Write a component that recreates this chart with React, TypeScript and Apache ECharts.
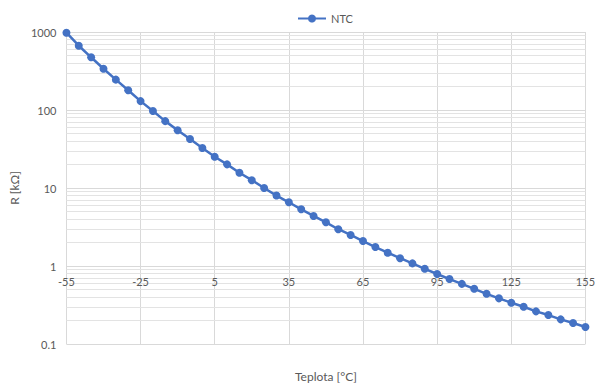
import React, { useEffect, useRef } from "react";
import * as echarts from "echarts";

const temperatures: string[] = [
  "-55", "-50", "-45", "-40", "-35", "-30", "-25", "-20", "-15", "-10",
  "-5", "0", "5", "10", "15", "20", "25", "30", "35", "40",
  "45", "50", "55", "60", "65", "70", "75", "80", "85", "90",
  "95", "100", "105", "110", "115", "120", "125", "130", "135", "140",
  "145", "150", "155",
];

const resistanceKOhm: number[] = [
  980, 667, 474, 338, 245, 179, 130, 97, 72, 55,
  42.5, 32.6, 25.2, 20.1, 15.7, 12.6, 10, 8.0, 6.56, 5.33,
  4.38, 3.63, 2.96, 2.5, 2.09, 1.75, 1.48, 1.26, 1.08, 0.92,
  0.79, 0.68, 0.59, 0.51, 0.44, 0.385, 0.338, 0.30, 0.262, 0.235,
  0.207, 0.186, 0.165,
];

const minorGridValues: number[] = [
  0.2, 0.3, 0.4, 0.5, 0.6, 0.7, 0.8, 0.9,
  2, 3, 4, 5, 6, 7, 8, 9,
  20, 30, 40, 50, 60, 70, 80, 90,
  200, 300, 400, 500, 600, 700, 800, 900,
];

const seriesName = "NTC";
const xTitle = "Teplota [°C]";
const yTitle = "R [kΩ]";

export default function App() {
  const ref = useRef<HTMLDivElement>(null);
  useEffect(() => {
    if (!ref.current) return;
    const chart = echarts.init(ref.current, undefined, { renderer: "svg" });
    const font = "Lato, 'Open Sans', sans-serif";
    chart.setOption({
      animation: false,
      backgroundColor: "#ffffff",
      textStyle: { fontFamily: font },
      grid: { left: 63, right: 11, top: 32, bottom: 44, containLabel: false },
      legend: {
        data: [seriesName],
        left: 292,
        top: 8,
        itemWidth: 28,
        itemHeight: 10,
        itemGap: 4,
        textStyle: { color: "#595959", fontSize: 11, fontFamily: font },
      },
      xAxis: {
        type: "category",
        data: temperatures,
        boundaryGap: false,
        offset: -78,
        axisLine: { show: false },
        axisTick: { show: false },
        axisLabel: {
          interval: 5,
          color: "#595959",
          fontSize: 11,
          margin: 10,
          fontFamily: font,
        },
        splitLine: {
          show: true,
          interval: 5,
          lineStyle: { color: "#d9d9d9", width: 1 },
        },
        name: xTitle,
        nameLocation: "middle",
        nameGap: 104,
        nameTextStyle: { color: "#595959", fontSize: 12, fontFamily: font },
      },
      yAxis: {
        type: "log",
        logBase: 10,
        min: 0.1,
        max: 1000,
        interval: 1,
        axisLine: { show: false },
        axisTick: { show: false },
        axisLabel: {
          color: "#595959",
          fontSize: 11,
          margin: 10,
          fontFamily: font,
          formatter: (v: number) => String(+Number(v).toPrecision(6)),
        },
        splitLine: { show: true, lineStyle: { color: "#d9d9d9", width: 1 } },
        name: yTitle,
        nameLocation: "middle",
        nameGap: 38,
        nameRotate: 90,
        nameTextStyle: { color: "#595959", fontSize: 12, fontFamily: font },
      },
      series: [
        {
          name: "minor",
          type: "line",
          data: [],
          z: 0,
          silent: true,
          markLine: {
            z: 0,
            silent: true,
            symbol: ["none", "none"],
            label: { show: false },
            emphasis: { disabled: true },
            lineStyle: { color: "#e3e3e3", width: 1, type: "solid" },
            data: minorGridValues.map((v) => ({ yAxis: v })),
          },
        },
        {
          name: seriesName,
          type: "line",
          data: resistanceKOhm,
          z: 3,
          symbol: "circle",
          symbolSize: 8,
          showSymbol: true,
          lineStyle: { color: "#4472C4", width: 2.5 },
          itemStyle: { color: "#4472C4" },
        },
      ],
    });
    return () => chart.dispose();
  }, []);
  return <div ref={ref} style={{ width: 598, height: 388, position: "fixed", left: 0, top: 0 }} />;
}
